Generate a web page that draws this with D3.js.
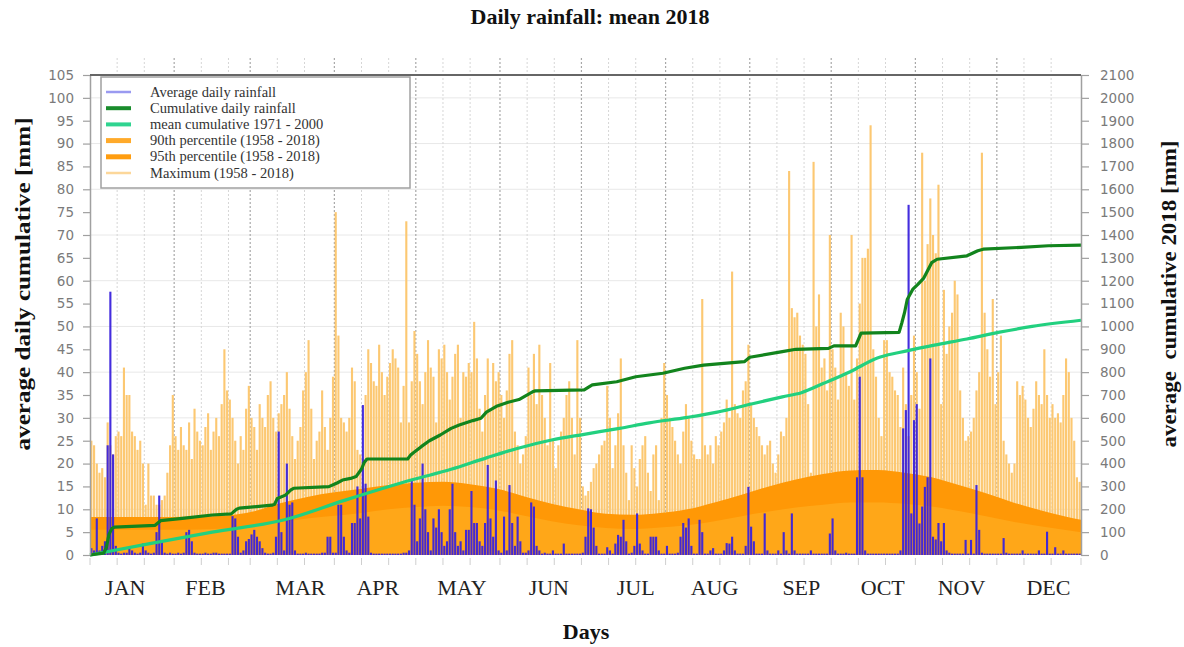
<!DOCTYPE html>
<html><head><meta charset="utf-8">
<script src="https://cdn.jsdelivr.net/npm/d3@7"></script>
<style>body{margin:0;background:#fff} svg{display:block}</style>
</head><body>
<svg id="chart" width="1184" height="647"></svg>
<script>
// ---------------- DATA ----------------
const monthNames = ["JAN","FEB","MAR","APR","MAY","JUN","JUL","AUG","SEP","OCT","NOV","DEC"];
const monthStartDays = [0,31,59,90,120,151,181,212,243,273,304,334,365];
const monthLabelDays = [13,42.5,77.5,106,137,169,201,230,262,292,321,353];
const leftTicks = [0,5,10,15,20,25,30,35,40,45,50,55,60,65,70,75,80,85,90,95,100,105];
const rightTicks = [0,100,200,300,400,500,600,700,800,900,1000,1100,1200,1300,1400,1500,1600,1700,1800,1900,2000,2100];
const gridValues = [10,20,30,40,50,60,70,80,90,100];

// Maximum daily rainfall (1958-2018), mm, one value per day
const maxRain = [
25,24,20,18,19,17,29,24,22,26,
27,26,41,35,35,27,26,23,25,20,
11,20,13,13,11,11,12,13,18,24,
35,26,23,28,24,23,29,21,32,27,
25,24,28,31,23,27,30,26,33,45,
36,34,30,25,20,26,23,32,37,30,
28,23,33,30,28,35,38,30,27,31,
33,35,40,32,26,21,25,28,36,40,
47,32,21,25,27,36,28,23,30,39,
75,48,30,29,27,30,41,38,23,22,
21,35,45,42,38,37,46,40,35,39,
42,45,43,41,29,37,73,29,38,49,
44,38,33,40,47,41,39,29,45,43,
46,40,34,39,44,46,30,40,39,42,
40,51,43,32,27,35,43,32,42,38,
40,35,30,36,44,47,27,24,20,22,
26,41,35,44,33,46,35,30,24,42,
25,19,24,27,30,35,38,30,22,47,
30,15,13,14,16,19,20,22,24,25,
37,30,19,24,31,43,24,18,12,24,
19,15,21,24,26,18,14,22,24,12,
30,42,35,30,28,25,22,20,27,33,
30,25,22,21,21,56,24,22,24,20,
26,24,27,29,34,30,62,33,31,30,
36,38,46,33,30,28,26,24,22,24,
25,20,18,22,27,26,30,84,54,52,
53,48,46,44,33,18,86,50,57,41,
43,36,70,45,41,34,53,50,40,37,
70,34,43,55,65,65,67,94,45,39,
30,26,47,47,40,39,36,35,28,41,
33,26,35,48,40,32,88,60,68,78,
70,66,81,33,58,44,50,53,60,57,
36,30,25,26,27,30,36,40,88,53,
45,39,56,33,40,48,25,22,20,18,
20,38,35,37,34,30,28,32,38,35,
33,45,35,30,33,30,31,29,35,43,
40,30,25,17,16
];

// Average daily rainfall 2018, mm, one value per day
const avgRain2018 = [
1.5,1,8,1,2,3,24,57.6,22,2,
0.5,0.3,0.5,0.5,1.5,1,0.5,0.3,0.5,2.5,
1,0.5,0.3,0.5,5,13,3,0.5,0.3,0.5,
0.3,0.3,0.5,0.3,0.5,5,5.5,3,0.5,0.3,
0.3,0.3,0.5,0.3,0.3,0.5,0.5,0.3,0.3,0.3,
0.3,0.3,8.5,8,4,0.5,1,3,3.5,4.5,
5.5,4,3,1.5,0.5,0.3,0.3,0.5,4,27,
5,1,20,11,11.5,1,0.3,0.3,0.3,0.5,
0.3,0.3,0.3,0.3,0.3,0.5,0.5,4,4,0.5,
0.5,11,11,4,1,0.5,7,7,15,8,
32.8,15.6,8.4,0.5,0.3,0.3,0.3,0.3,0.3,0.3,
0.3,0.3,0.3,0.3,0.3,0.5,0.5,1,16.3,11,
3,8,20,10,5,1,8,6,10,5,
2,3,10,15.6,5,2,3,1,5.5,5.5,
14,7,7,3,2,7,19.7,8,4,16.3,
1,0.5,8.4,1,15.3,7,2,8.4,3,0.5,
0.5,1,11.5,10.6,2,1,0.3,0.5,0.3,0.3,
1,0.3,0.3,0.3,2.5,0.3,0.3,0.3,0.3,0.3,
0.3,0.5,4,10.2,10,6,2,0.3,0.3,0.3,
1.7,1,0.3,2.5,4.4,4,7.7,3,0.3,0.5,
2,9.1,2.5,1,0.3,0.3,4,4,4,1,
0.3,0.3,2,0.3,0.3,0.3,0.5,4,7,6,
8,2,0.3,0.3,7.7,5,0.3,0.3,1,1.5,
0.3,0.3,0.3,1,2.6,2.5,4,1,0.3,0.3,
0.3,2,14.9,6.2,3,0.3,0.3,0.3,9.1,1,
0.3,0.3,0.3,1,0.3,5,1,0.3,9.1,1,
0.3,0.3,0.3,0.3,0.3,1,0.3,0.3,0.3,0.3,
0.3,0.3,4.7,8,1,0.3,0.3,0.3,0.5,0.3,
0.3,0.3,17,39,17,1,0.3,0.3,0.3,0.3,
0.3,0.3,0.3,0.3,0.3,0.3,0.3,0.3,1,27.7,
31.7,76.6,9.1,29.5,33,6.9,10.6,14.9,17,43,
4,3.4,7,3,7,1,0.5,0.3,0.3,0.3,
0.3,0.3,3.3,0.3,3.3,0.3,15.3,5.5,0.5,0.3,
0.3,0.3,0.3,0.3,0.3,0.3,3.7,0.5,0.3,0.3,
0.3,0.3,0.3,1,0.3,0.3,0.3,0.3,0.3,1,
0.3,0.3,5.1,0.3,0.3,1.7,0.3,0.3,1,0.3,
0.3,0.3,0.3,0.3,0.3
];

// Cumulative daily rainfall 2018 (right axis, mm)
const cumDays   = [0,5,6,7,8,9,24,26,34,45,52,54,55,67,68,69,72,74,75,88,91,93,96,98,100,101,102,117,118,119,122,125,129,133,136,141,144,146,150,154,158,163,164,182,185,194,201,211,219,226,241,243,255,260,272,274,282,284,298,299,300,301,303,305,307,310,312,323,327,329,343,353,365];
const cumValues = [0,8,32,90,115,122,130,150,160,175,180,200,205,218,222,247,262,285,292,299,315,328,335,343,376,405,420,420,436,446,474,500,525,554,569,588,598,625,652,668,680,714,718,722,744,758,780,795,817,831,846,865,890,900,904,915,915,971,974,1015,1060,1118,1162,1185,1210,1279,1294,1309,1331,1338,1346,1353,1356];

// Mean cumulative 1971-2000 (right axis, mm)
const meanCumDays   = [0,22,45,72,94,119,133,146,157,170,182,195,206,220,231,244,255,262,270,280,290,298,311,323,335,347,365];
const meanCumValues = [0,50,100,155,240,330,375,425,465,503,528,554,578,602,625,662,692,710,750,802,862,886,918,945,975,1000,1027];

// Percentiles (1958-2018), mm, sampled every 10 days
const pctDays = [0,10,20,30,40,50,60,70,80,90,100,110,120,130,140,150,160,170,180,190,200,210,220,230,240,250,260,270,280,290,300,310,320,330,340,350,360,365];
const p95 = [8.3,8.3,8.3,8.3,8.4,8.6,9.5,11.3,12.7,13.7,14.5,15.3,15.8,16.0,15.5,14.5,12.8,11.2,10.0,9.0,8.8,9.2,10.0,11.5,13.2,15.0,16.5,17.7,18.5,18.6,18.0,17.0,15.3,13.5,11.5,9.8,8.3,7.7];
const p90 = [5.5,5.5,5.5,5.5,5.6,5.8,6.3,7.2,8.0,8.6,9.2,10.0,10.5,10.8,10.5,9.8,8.6,7.4,6.5,5.9,5.7,6.0,6.5,7.4,8.5,9.5,10.4,11.0,11.5,11.5,11.2,10.6,9.6,8.5,7.3,6.3,5.4,5.0];

const legendLabels = ["Average daily rainfall","Cumulative daily rainfall","mean cumulative 1971 - 2000","90th percentile (1958 - 2018)","95th percentile (1958 - 2018)","Maximum (1958 - 2018)"];

// ---------------- DRAW ----------------
const svg = d3.select("#chart");
const L = 90, R = 1081, T = 75, B = 555;
const days = d3.range(365);
const x = d3.scaleLinear().domain([0,365]).range([L,R]);
const xb = d3.scaleBand().domain(days).range([L,R]).paddingInner(0.22).paddingOuter(0.11);
const yL = d3.scaleLinear().domain([0,105]).range([B,T]);
const yR = d3.scaleLinear().domain([0,2100]).range([B,T]);

const serif = "'Liberation Serif','DejaVu Serif',serif";
const sans = "'DejaVu Sans','Liberation Sans',sans-serif";

// horizontal grid
svg.append("g").selectAll("line").data(gridValues).join("line")
  .attr("x1",L).attr("x2",R).attr("y1",d=>yL(d)).attr("y2",d=>yL(d))
  .attr("stroke","#e8e8e8").attr("stroke-width",1);

// vertical grid (months + dekads)
const dekads = [];
monthStartDays.slice(0,12).forEach(s=>{dekads.push(s+10); dekads.push(s+20);});
svg.append("g").selectAll("line").data(dekads).join("line")
  .attr("x1",d=>x(d)).attr("x2",d=>x(d)).attr("y1",58).attr("y2",B)
  .attr("stroke","#d6d6d6").attr("stroke-width",1).attr("stroke-dasharray","2,2");
svg.append("g").selectAll("line").data(monthStartDays.slice(1,12)).join("line")
  .attr("x1",d=>x(d)).attr("x2",d=>x(d)).attr("y1",58).attr("y2",B)
  .attr("stroke","#a8a8a8").attr("stroke-width",1.2).attr("stroke-dasharray","2,2");

// maximum bars
svg.append("g").selectAll("rect").data(days).join("rect")
  .attr("x",d=>xb(d)).attr("width",xb.bandwidth())
  .attr("y",d=>yL(maxRain[d])).attr("height",d=>B-yL(maxRain[d]))
  .attr("fill","#fcc872");

// percentile areas
const pctData = pctDays.map((d,i)=>({day:d,p90:p90[i],p95:p95[i]}));
const area95 = d3.area().x(d=>x(d.day)).y0(B).y1(d=>yL(d.p95)).curve(d3.curveMonotoneX);
const area90 = d3.area().x(d=>x(d.day)).y0(B).y1(d=>yL(d.p90)).curve(d3.curveMonotoneX);
svg.append("path").datum(pctData).attr("d",area95).attr("fill","#ff9806");
svg.append("path").datum(pctData).attr("d",area90).attr("fill","#ffa718");

// 2018 average daily bars
svg.append("g").selectAll("rect").data(days).join("rect")
  .attr("x",d=>xb(d)).attr("width",xb.bandwidth())
  .attr("y",d=>yL(avgRain2018[d])).attr("height",d=>B-yL(avgRain2018[d]))
  .attr("fill","#3a22dc").attr("fill-opacity",0.95);

// lines
const meanData = meanCumDays.map((d,i)=>({day:d,v:meanCumValues[i]}));
const cumData = cumDays.map((d,i)=>({day:d,v:cumValues[i]}));
svg.append("path").datum(meanData)
  .attr("d",d3.line().x(d=>x(d.day)).y(d=>yR(d.v)).curve(d3.curveMonotoneX))
  .attr("fill","none").attr("stroke","#22d07f").attr("stroke-width",3.2);
svg.append("path").datum(cumData)
  .attr("d",d3.line().x(d=>x(d.day)).y(d=>yR(d.v)).curve(d3.curveLinear))
  .attr("fill","none").attr("stroke","#12841d").attr("stroke-width",3.2).attr("stroke-linejoin","round");

// axes
const axL = svg.append("g").attr("transform",`translate(${L},0)`)
  .call(d3.axisLeft(yL).tickValues(leftTicks).tickFormat(d3.format("d")).tickSize(7).tickPadding(9).tickSizeOuter(0));
const axR = svg.append("g").attr("transform",`translate(${R},0)`)
  .call(d3.axisRight(yR).tickValues(rightTicks).tickFormat(d3.format("d")).tickSize(8).tickPadding(11).tickSizeOuter(0));
[axL,axR].forEach(g=>{
  g.attr("font-family",sans).attr("font-size",13.5);
  g.select(".domain").attr("stroke","#a0a0a0").attr("stroke-width",1.5);
  g.selectAll(".tick line").attr("stroke","#a0a0a0").attr("stroke-width",1.2);
  g.selectAll(".tick text").attr("fill","#7a7a7a");
});

// bottom ticks
svg.append("g").selectAll("line").data(dekads.concat(monthStartDays)).join("line")
  .attr("x1",d=>x(d)).attr("x2",d=>x(d)).attr("y1",B+3).attr("y2",B+10)
  .attr("stroke","#cfcfcf").attr("stroke-width",1);

// top border
svg.append("line").attr("x1",L).attr("x2",R).attr("y1",T).attr("y2",T)
  .attr("stroke","#666").attr("stroke-width",2.2);

// month labels
svg.append("g").selectAll("text").data(monthNames).join("text")
  .attr("x",(d,i)=>x(monthLabelDays[i])).attr("y",595)
  .attr("text-anchor","middle").attr("font-family",serif).attr("font-size",22)
  .attr("fill","#222").text(d=>d);

// titles
svg.append("text").attr("x",590).attr("y",24).attr("text-anchor","middle")
  .attr("font-family",serif).attr("font-weight","bold").attr("font-size",22)
  .attr("fill","#111").text("Daily rainfall: mean 2018");
svg.append("text").attr("x",586).attr("y",639).attr("text-anchor","middle")
  .attr("font-family",serif).attr("font-weight","bold").attr("font-size",22)
  .attr("fill","#111").text("Days");
svg.append("text").attr("transform","translate(30,284) rotate(-90)")
  .attr("text-anchor","middle").attr("font-family",serif).attr("font-weight","bold")
  .attr("font-size",22).attr("fill","#111")
  .attr("textLength",333).attr("lengthAdjust","spacingAndGlyphs")
  .text("average daily cumulative [mm]");
svg.append("text").attr("transform","translate(1176,294) rotate(-90)")
  .attr("text-anchor","middle").attr("font-family",serif).attr("font-weight","bold")
  .attr("font-size",22).attr("fill","#111").attr("xml:space","preserve")
  .attr("textLength",307).attr("lengthAdjust","spacingAndGlyphs")
  .text("average  cumulative 2018 [mm]");

// legend
const lg = svg.append("g");
lg.append("rect").attr("x",101).attr("y",77).attr("width",309).attr("height",111)
  .attr("fill","#fff").attr("stroke","#a0a0a0").attr("stroke-width",1.5);
const legendStyles = [
  {c:"#9a9af0",w:2.5},{c:"#1a8c2c",w:4},{c:"#2fd490",w:4},
  {c:"#ffaa2a",w:5},{c:"#ff9d10",w:5},{c:"#fcd79a",w:2.5}
];
legendLabels.forEach((lab,i)=>{
  const yy = 92 + i*16.2;
  lg.append("line").attr("x1",106).attr("x2",131).attr("y1",yy).attr("y2",yy)
    .attr("stroke",legendStyles[i].c).attr("stroke-width",legendStyles[i].w);
  lg.append("text").attr("x",150).attr("y",yy+4.5)
    .attr("font-family",serif).attr("font-size",14.5).attr("fill","#333").text(lab);
});
</script>
</body></html>
